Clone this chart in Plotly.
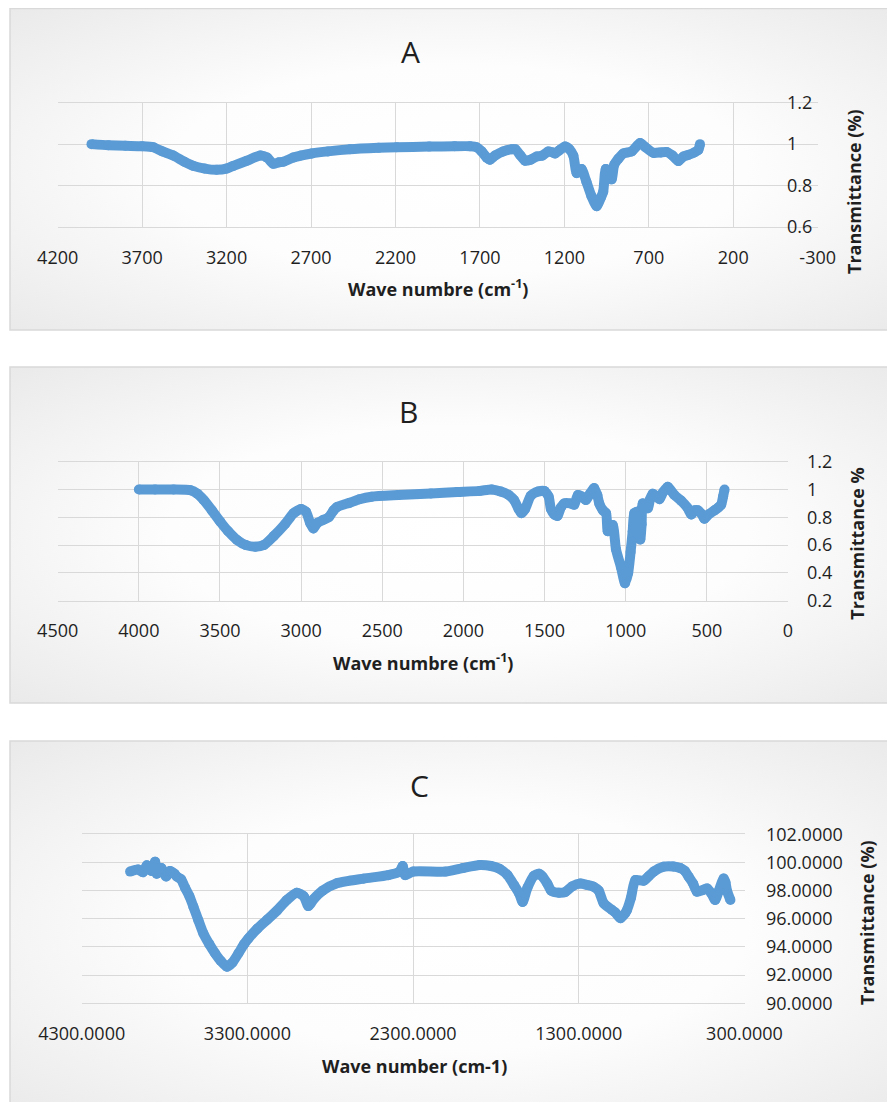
import base64
import plotly.graph_objects as go

# ---------------- data ----------------
A_wn = [4000, 3900, 3800, 3700, 3634, 3580, 3516, 3450, 3397, 3330, 3259, 3200, 3160, 3080,
        3000, 2960, 2923, 2890, 2864, 2805, 2760, 2696, 2600, 2469, 2300, 2193, 2000, 1850,
        1759, 1720, 1690, 1660, 1641, 1610, 1562, 1510, 1490, 1460, 1433, 1400, 1364, 1330,
        1295, 1270, 1255, 1230, 1196, 1170, 1147, 1127, 1110, 1098, 1070, 1040, 1009, 985,
        970, 955, 940, 920, 905, 880, 851, 801, 752, 720, 673, 630, 594, 560, 525, 495, 466,
        430, 407, 397]
A_t = [1.00, 0.995, 0.992, 0.99, 0.985, 0.965, 0.945, 0.915, 0.895, 0.882, 0.876, 0.882, 0.895,
       0.92, 0.945, 0.935, 0.905, 0.912, 0.915, 0.935, 0.945, 0.955, 0.965, 0.975, 0.982, 0.985,
       0.988, 0.99, 0.99, 0.985, 0.965, 0.935, 0.925, 0.945, 0.965, 0.975, 0.975, 0.945, 0.92,
       0.925, 0.94, 0.945, 0.965, 0.96, 0.955, 0.97, 0.988, 0.975, 0.945, 0.86, 0.87, 0.88,
       0.82, 0.75, 0.70, 0.74, 0.77, 0.88, 0.87, 0.83, 0.90, 0.93, 0.955, 0.965, 1.005, 0.985,
       0.958, 0.96, 0.962, 0.945, 0.918, 0.94, 0.948, 0.96, 0.972, 1.0]

B_wn = [4000, 3900, 3786, 3683, 3640, 3601, 3550, 3498, 3450, 3395, 3340, 3282, 3230, 3169,
        3100, 3046, 3000, 2970, 2945, 2925, 2900, 2865, 2830, 2800, 2777, 2700, 2640, 2566,
        2400, 2200, 2038, 1900, 1826, 1770, 1720, 1688, 1660, 1643, 1620, 1585, 1540, 1502,
        1475, 1461, 1440, 1420, 1400, 1379, 1340, 1317, 1295, 1270, 1245, 1220, 1194, 1175,
        1163, 1140, 1121, 1111, 1095, 1080, 1060, 1029, 1004, 985, 970, 957, 947, 930, 918,
        910, 902, 895, 864, 850, 833, 810, 792, 770, 741, 700, 659, 620, 596, 575, 555, 530,
        515, 490, 453, 430, 412, 400, 391]
B_t = [1.0, 1.0, 1.0, 0.995, 0.97, 0.925, 0.85, 0.768, 0.70, 0.637, 0.60, 0.589, 0.60, 0.665,
       0.75, 0.83, 0.86, 0.84, 0.76, 0.72, 0.76, 0.78, 0.80, 0.85, 0.875, 0.905, 0.93, 0.948,
       0.96, 0.972, 0.982, 0.99, 1.0, 0.985, 0.96, 0.924, 0.86, 0.83, 0.86, 0.955, 0.985, 0.99,
       0.95, 0.86, 0.82, 0.81, 0.87, 0.90, 0.90, 0.89, 0.96, 0.95, 0.924, 0.97, 1.01, 0.96,
       0.90, 0.85, 0.829, 0.70, 0.74, 0.745, 0.57, 0.44, 0.325, 0.40, 0.55, 0.70, 0.83, 0.84,
       0.70, 0.64, 0.75, 0.90, 0.865, 0.93, 0.97, 0.95, 0.93, 0.98, 1.02, 0.96, 0.92, 0.87,
       0.82, 0.85, 0.85, 0.82, 0.79, 0.82, 0.85, 0.87, 0.89, 0.95, 1.0]

C_wn = [4008, 3960, 3930, 3907, 3880, 3857, 3847, 3820, 3790, 3767, 3740, 3726, 3700, 3676,
        3650, 3626, 3596, 3566, 3530, 3495, 3460, 3424, 3390, 3354, 3320, 3294, 3240, 3183,
        3120, 3062, 3002, 2960, 2932, 2900, 2846, 2760, 2600, 2450, 2381, 2363, 2348, 2300,
        2105, 2000, 1898, 1830, 1778, 1730, 1691, 1660, 1639, 1610, 1571, 1540, 1519, 1490,
        1467, 1420, 1382, 1340, 1291, 1250, 1211, 1180, 1150, 1100, 1080, 1049, 1020, 1009,
        985, 959, 909, 880, 848, 788, 730, 687, 660, 637, 610, 587, 550, 526, 500, 477, 457,
        426, 415, 405, 385]
C_t = [99.35, 99.5, 99.3, 99.8, 99.4, 100.05, 99.2, 99.6, 99.0, 99.4, 99.2, 99.0, 98.8, 98.2,
       97.6, 96.86, 95.9, 94.97, 94.2, 93.55, 93.0, 92.6, 92.9, 93.55, 94.2, 94.6, 95.3, 95.91,
       96.6, 97.33, 97.85, 97.6, 96.9, 97.4, 98.0, 98.52, 98.85, 99.1, 99.35, 99.75, 99.1,
       99.35, 99.35, 99.6, 99.82, 99.75, 99.55, 99.1, 98.4, 97.8, 97.2, 98.2, 99.05, 99.2, 99.0,
       98.5, 98.0, 97.85, 97.9, 98.3, 98.5, 98.4, 98.28, 98.0, 97.1, 96.63, 96.45, 96.04, 96.4,
       96.63, 97.5, 98.75, 98.7, 99.0, 99.35, 99.7, 99.72, 99.6, 99.4, 98.99, 98.5, 97.92,
       98.05, 98.16, 97.8, 97.33, 97.92, 98.87, 98.6, 97.96, 97.33]

# tick values / labels of panel A's x axis (the reference writes "-300" with a hyphen)
A_xticks = [4200, 3700, 3200, 2700, 2200, 1700, 1200, 700, 200, -300]
A_xticklabels = ["4200", "3700", "3200", "2700", "2200", "1700", "1200", "700", "200", "-300"]

panel_titles = ["A", "B", "C"]
x_titles = ["Wave numbre (cm<sup>-1</sup>)", "Wave numbre (cm<sup>-1</sup>)", "Wave number (cm-1)"]
y_titles = ["Transmittance (%)", "Transmittance %", "Transmittance (%)"]

# ---------------- layout helpers (page pixel -> paper) ----------------
# the page body keeps its default 8px margin, so the figure is drawn at (8, 8)
OFF = 8
W, H = 895 - OFF, 1102 - OFF
def px(x):
    return (x - OFF) / W
def py(y):
    return 1 - (y - OFF) / H

LINE = "#5B9BD5"
GRID = "#d9d9d9"
TXT = "#1f1f1f"
FONT = "Open Sans"

fig = go.Figure()

series = [(A_wn, A_t), (B_wn, B_t), (C_wn, C_t)]
for i, (wn, t) in enumerate(series):
    fig.add_trace(go.Scatter(
        x=wn, y=t, mode="lines+markers",
        line=dict(color=LINE, width=10, shape="spline", smoothing=0.6),
        marker=dict(color=LINE, size=10, line=dict(width=0)),
        xaxis="x" if i == 0 else f"x{i+1}",
        yaxis="y" if i == 0 else f"y{i+1}",
        showlegend=False, hoverinfo="skip"))

# plot area geometry (page pixels): left, right, top, bottom
plots = [(57.7, 817.7, 102.7, 227.0), (57.7, 788.0, 461.7, 600.7), (81.7, 744.5, 834.3, 1003.3)]
xranges = [[4200, -300], [4500, 0], [4300, 300]]
xdticks = [500, 500, 1000]
xfmts = ["", "", ".4f"]
yranges = [[0.6, 1.2], [0.2, 1.2], [90, 102]]
ydticks = [0.2, 0.2, 2]
yfmts = ["", "", ".4f"]
ylabel_left = [788, 808, 767]

tickfont = dict(family=FONT, size=18, color=TXT)
for i in range(3):
    l, r, t, b = plots[i]
    xs = "xaxis" if i == 0 else f"xaxis{i+1}"
    ys = "yaxis" if i == 0 else f"yaxis{i+1}"
    yname = "y" if i == 0 else f"y{i+1}"
    xa = dict(
        domain=[px(l), px(r)], anchor=yname, range=xranges[i], autorange=False,
        tick0=xranges[i][1], dtick=xdticks[i], tickformat=xfmts[i], automargin=False,
        showgrid=True, gridcolor=GRID, gridwidth=1.3, zeroline=False,
        showline=True, mirror=True, linecolor=GRID, linewidth=1.3,
        ticks="", ticklabelstandoff=14, tickfont=tickfont)
    if i == 0:
        xa.update(tickmode="array", tickvals=A_xticks, ticktext=A_xticklabels)
    fig.layout[xs] = xa
    fig.layout[ys] = dict(
        domain=[py(b), py(t)], anchor="free", position=px(ylabel_left[i] - 2), side="right",
        range=yranges[i], autorange=False, tick0=yranges[i][0], dtick=ydticks[i],
        tickformat=yfmts[i], automargin=False, showgrid=True, gridcolor=GRID, gridwidth=1.3,
        zeroline=False, showline=False, ticks="", ticklabelstandoff=0, tickfont=tickfont)

# ---------------- panel backgrounds (radial gradient) and borders ----------------
svg = ('<svg xmlns="http://www.w3.org/2000/svg" width="100" height="100" viewBox="0 0 100 100" '
       'preserveAspectRatio="none"><defs><radialGradient id="g" cx="50%" cy="50%" r="72%">'
       '<stop offset="0" stop-color="#ffffff"/><stop offset="0.45" stop-color="#fdfdfd"/>'
       '<stop offset="1" stop-color="#e9e9e9"/></radialGradient></defs>'
       '<rect width="100" height="100" fill="url(#g)"/></svg>')
src = "data:image/svg+xml;base64," + base64.b64encode(svg.encode()).decode()

boxes = [(10, 8.5, 905, 330), (10, 367, 905, 703), (10, 741, 905, 1115)]
images = []
shapes = []
for (x0, y0, x1, y1) in boxes:
    images.append(dict(source=src, xref="paper", yref="paper", x=px(x0), y=py(y0),
                       sizex=(x1 - x0) / W, sizey=(y1 - y0) / H, sizing="stretch",
                       xanchor="left", yanchor="top", layer="below"))
    shapes.append(dict(type="rect", xref="paper", yref="paper", x0=px(x0), x1=px(x1),
                       y0=py(y1), y1=py(y0), line=dict(color=GRID, width=1.5),
                       fillcolor="rgba(0,0,0,0)", layer="below"))

# ---------------- titles ----------------
title_pos = [(410, 52), (408, 412), (419.5, 785)]
xt_pos = [(437.7, 288), (423, 662), (414, 1066)]
yt_pos = [(854, 192), (856.7, 543), (867, 923)]
ann = []
for i in range(3):
    ann.append(dict(text=panel_titles[i], x=px(title_pos[i][0]), y=py(title_pos[i][1]),
                    xref="paper", yref="paper", showarrow=False, xanchor="center", yanchor="middle",
                    font=dict(family=FONT, size=30, color=TXT)))
    ann.append(dict(text="<b>" + x_titles[i] + "</b>", x=px(xt_pos[i][0]), y=py(xt_pos[i][1]),
                    xref="paper", yref="paper", showarrow=False, xanchor="center", yanchor="middle",
                    font=dict(family=FONT, size=18, color=TXT)))
    ann.append(dict(text="<b>" + y_titles[i] + "</b>", x=px(yt_pos[i][0]), y=py(yt_pos[i][1]),
                    xref="paper", yref="paper", showarrow=False, xanchor="center", yanchor="middle",
                    textangle=-90, font=dict(family=FONT, size=18, color=TXT)))

fig.update_layout(width=W, height=H, margin=dict(l=0, r=0, t=0, b=0, pad=0, autoexpand=False),
                  paper_bgcolor="white", plot_bgcolor="rgba(0,0,0,0)",
                  images=images, shapes=shapes, annotations=ann, showlegend=False)

fig.write_html("out.html")
